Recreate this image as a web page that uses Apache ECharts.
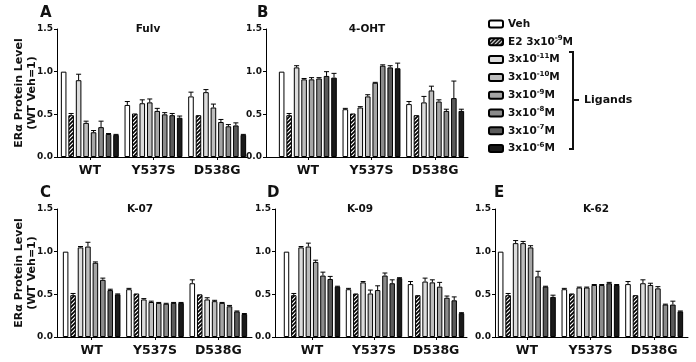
<!DOCTYPE html>
<html>
<head>
<meta charset="utf-8">
<script src="https://cdn.jsdelivr.net/npm/echarts@6/dist/echarts.min.js"></script>
<style>
  html, body { margin: 0; padding: 0; background: #fff; }
  #main { width: 696px; height: 362px; }
</style>
</head>
<body>
<div id="main"></div>
<script>
// ---- data (rows: WT, Y537S, D538G; columns: Veh, E2, 3e-11 ... 3e-6) ----
const groups = ['WT', 'Y537S', 'D538G'];
const treatments = ['Veh', 'E2', 'L11', 'L10', 'L9', 'L8', 'L7', 'L6'];
const legendLabels = ['Veh', 'E2 3x10{s|-9}M', '3x10{s|-11}M', '3x10{s|-10}M',
  '3x10{s|-9}M', '3x10{s|-8}M', '3x10{s|-7}M', '3x10{s|-6}M'];
const yTicks = [0, 0.5, 1.0, 1.5];

const fulvMean = [
  [1.00, 0.49, 0.90, 0.40, 0.29, 0.35, 0.27, 0.26],
  [0.61, 0.51, 0.63, 0.64, 0.54, 0.50, 0.49, 0.46],
  [0.71, 0.49, 0.76, 0.58, 0.41, 0.36, 0.37, 0.26]
];
const fulvErr = [
  [0, 0.02, 0.07, 0.02, 0.02, 0.07, 0.005, 0.005],
  [0.04, 0, 0.04, 0.04, 0.03, 0.02, 0.02, 0.02],
  [0.05, 0, 0.03, 0.04, 0.03, 0.02, 0.03, 0.005]
];
const ohtMean = [
  [1.00, 0.49, 1.05, 0.91, 0.91, 0.92, 0.95, 0.93],
  [0.56, 0.51, 0.58, 0.71, 0.87, 1.07, 1.05, 1.04],
  [0.62, 0.49, 0.64, 0.78, 0.65, 0.54, 0.69, 0.54]
];
const ohtErr = [
  [0, 0.02, 0.02, 0.01, 0.02, 0.01, 0.05, 0.05],
  [0.01, 0, 0.01, 0.02, 0.005, 0.01, 0.02, 0.06],
  [0.03, 0, 0.07, 0.05, 0.02, 0.02, 0.2, 0.02]
];
const k07Mean = [
  [1.00, 0.49, 1.05, 1.06, 0.87, 0.67, 0.55, 0.50],
  [0.56, 0.51, 0.44, 0.41, 0.40, 0.39, 0.40, 0.40],
  [0.63, 0.50, 0.44, 0.42, 0.40, 0.36, 0.30, 0.27]
];
const k07Err = [
  [0, 0.02, 0.01, 0.05, 0.01, 0.02, 0.01, 0.005],
  [0.01, 0, 0.01, 0.01, 0.005, 0.005, 0.005, 0.005],
  [0.04, 0, 0.02, 0.01, 0.005, 0.01, 0.005, 0.005]
];
const k09Mean = [
  [1.00, 0.49, 1.05, 1.06, 0.88, 0.72, 0.68, 0.59],
  [0.56, 0.51, 0.64, 0.51, 0.55, 0.72, 0.63, 0.69],
  [0.62, 0.49, 0.65, 0.64, 0.59, 0.46, 0.43, 0.28]
];
const k09Err = [
  [0, 0.02, 0.01, 0.04, 0.02, 0.04, 0.03, 0.005],
  [0.01, 0, 0.01, 0.04, 0.05, 0.03, 0.04, 0.005],
  [0.03, 0, 0.04, 0.03, 0.05, 0.02, 0.04, 0.005]
];
const k62Mean = [
  [1.00, 0.49, 1.10, 1.10, 1.05, 0.71, 0.59, 0.47],
  [0.56, 0.51, 0.58, 0.58, 0.61, 0.61, 0.63, 0.61],
  [0.62, 0.49, 0.63, 0.61, 0.57, 0.38, 0.38, 0.30]
];
const k62Err = [
  [0, 0.02, 0.03, 0.02, 0.02, 0.06, 0.005, 0.02],
  [0.01, 0, 0.005, 0.005, 0.005, 0.005, 0.01, 0.005],
  [0.03, 0, 0.04, 0.02, 0.02, 0.005, 0.04, 0.005]
];

// ---- layout / style ----
const FONT = '"DejaVu Sans", sans-serif';
const INK = '#111';
const BAR_GAP = 0.34;     // barGap as fraction
const CAT_GAP = 0.09;     // barCategoryGap as fraction
const fills = ['#ffffff', null, '#dcdcdc', '#bdbdbd', '#a5a5a5', '#8b8b8b', '#5a5a5a', '#1a1a1a'];

// hatch for E2: black with white "/" stripes
function hatch() {
  const c = document.createElement('canvas');
  c.width = 4; c.height = 4;
  const ctx = c.getContext('2d');
  ctx.fillStyle = '#000';
  ctx.fillRect(0, 0, 4, 4);
  ctx.strokeStyle = '#fff';
  ctx.lineWidth = 1.2;
  ctx.beginPath();
  ctx.moveTo(-1, 5); ctx.lineTo(5, -1);
  ctx.moveTo(-1, 1); ctx.lineTo(1, -1);
  ctx.moveTo(3, 5); ctx.lineTo(5, 3);
  ctx.stroke();
  return c;
}
fills[1] = { image: hatch(), repeat: 'repeat' };

// panels: frame = axis box, data = where the bars sit
const panels = [
  { letter: 'A', title: 'Fulv',  mean: fulvMean, err: fulvErr, top: 29,  frame: [57, 191],  data: [58, 191],  yName: true,  lx: 40,  tx: 148 },
  { letter: 'B', title: '4-OHT', mean: ohtMean,  err: ohtErr,  top: 29,  frame: [266, 202], data: [276, 191], yName: false, lx: 257, tx: 367 },
  { letter: 'C', title: 'K-07',  mean: k07Mean,  err: k07Err,  top: 209, frame: [57, 195],  data: [60, 190],  yName: true,  lx: 40,  tx: 140 },
  { letter: 'D', title: 'K-09',  mean: k09Mean,  err: k09Err,  top: 209, frame: [275, 192], data: [281, 186], yName: false, lx: 267, tx: 360 },
  { letter: 'E', title: 'K-62',  mean: k62Mean,  err: k62Err,  top: 209, frame: [495, 193], data: [495, 191], yName: false, lx: 494, tx: 596 }
];
const PLOT_H = 128;

const grid = [], xAxis = [], yAxis = [], series = [], title = [];

function errRender(params, api) {
  const cat = api.value(0), s = api.value(1), top = api.value(2), e = api.value(3);
  const band = api.size([1, 0])[0];
  const n = treatments.length;
  const w = (band - band * CAT_GAP) / (n + (n - 1) * BAR_GAP);
  const sum = n * w + (n - 1) * w * BAR_GAP;
  const cx = api.coord([cat, 0])[0] - sum / 2 + s * w * (1 + BAR_GAP) + w / 2;
  const y0 = api.coord([cat, top])[1];
  const y1 = api.coord([cat, top + e])[1];
  const hw = w * 0.45;
  return {
    type: 'group',
    children: [
      { type: 'line', shape: { x1: cx, y1: y0, x2: cx, y2: y1 }, style: { stroke: '#000', lineWidth: 1 } },
      { type: 'line', shape: { x1: cx - hw, y1: y1, x2: cx + hw, y2: y1 }, style: { stroke: '#000', lineWidth: 1 } }
    ]
  };
}

panels.forEach((p, pi) => {
  const fg = pi * 2, dg = pi * 2 + 1;
  grid.push({ left: p.frame[0], width: p.frame[1], top: p.top, height: PLOT_H, outerBoundsMode: 'none' });
  grid.push({ left: p.data[0], width: p.data[1], top: p.top, height: PLOT_H, outerBoundsMode: 'none' });

  // frame axes
  xAxis.push({
    type: 'value', gridIndex: fg, min: 0, max: 1,
    axisLine: { show: true, lineStyle: { color: '#000', width: 1 } },
    axisTick: { show: false }, axisLabel: { show: false }, splitLine: { show: false }
  });
  yAxis.push({
    type: 'value', gridIndex: fg, min: yTicks[0], max: yTicks[yTicks.length - 1], interval: 0.5,
    axisLine: { show: true, lineStyle: { color: '#000', width: 1 } },
    axisTick: { show: true, length: 3, lineStyle: { color: '#000' } },
    axisLabel: { show: true, margin: 4, fontSize: 9, fontWeight: 'bold', fontFamily: FONT, color: INK,
      formatter: v => v.toFixed(1) },
    splitLine: { show: false },
    name: p.yName ? 'ERα Protein Level\n(WT Veh=1)' : '',
    nameLocation: 'middle', nameGap: 18, nameMoveOverlap: false,
    nameTextStyle: { fontSize: 11, fontWeight: 'bold', fontFamily: FONT, color: INK, lineHeight: 13 }
  });

  // data axes
  xAxis.push({
    type: 'category', gridIndex: dg, data: groups,
    axisLine: { show: false },
    axisTick: { show: true, alignWithLabel: true, length: 3, lineStyle: { color: '#000' } },
    axisLabel: { interval: 0, margin: 7, fontSize: 12.5, fontWeight: 'bold', fontFamily: FONT, color: INK },
    splitLine: { show: false }
  });
  yAxis.push({ type: 'value', gridIndex: dg, min: 0, max: 1.5, show: false });

  treatments.forEach((t, si) => {
    series.push({
      type: 'bar', name: t, xAxisIndex: dg, yAxisIndex: dg,
      barGap: (BAR_GAP * 100) + '%', barCategoryGap: (CAT_GAP * 100) + '%',
      itemStyle: { color: fills[si], borderColor: '#000', borderWidth: 1 },
      emphasis: { disabled: true },
      data: groups.map((g, gi) => p.mean[gi][si])
    });
  });

  const errData = [];
  groups.forEach((g, gi) => treatments.forEach((t, si) => {
    if (p.err[gi][si] > 0) errData.push([gi, si, p.mean[gi][si], p.err[gi][si]]);
  }));
  series.push({
    type: 'custom', xAxisIndex: dg, yAxisIndex: dg, z: 5,
    renderItem: errRender, encode: { x: 0, y: 2 }, data: errData, silent: true
  });

  title.push({
    text: p.letter, left: p.lx, top: p.top - 23, padding: 0,
    textStyle: { fontSize: 15, fontWeight: 'bold', fontFamily: FONT, color: INK }
  });
  title.push({
    text: p.title, left: p.tx, top: p.top - 5, textAlign: 'center', padding: 0,
    textStyle: { fontSize: 10.5, fontWeight: 'bold', fontFamily: FONT, color: INK }
  });
});

const chart = echarts.init(document.getElementById('main'), null, { renderer: 'canvas' });
chart.setOption({
  animation: false,
  backgroundColor: '#fff',
  title: title,
  grid: grid,
  xAxis: xAxis,
  yAxis: yAxis,
  legend: {
    data: treatments,
    orient: 'vertical', left: 488, top: 17, padding: 0,
    itemWidth: 14, itemHeight: 7, itemGap: 3.8,
    selectedMode: false,
    formatter: name => legendLabels[treatments.indexOf(name)],
    textStyle: {
      fontSize: 10.5, fontWeight: 'bold', fontFamily: FONT, color: INK, lineHeight: 14,
      rich: { s: { fontSize: 7, fontWeight: 'bold', fontFamily: FONT, color: INK, verticalAlign: 'top', lineHeight: 14 } }
    }
  },
  graphic: [
    { type: 'polyline', shape: { points: [[569, 52], [573, 52], [573, 149], [569, 149]] },
      style: { stroke: INK, lineWidth: 2, fill: null } },
    { type: 'line', shape: { x1: 573, y1: 100, x2: 579, y2: 100 }, style: { stroke: INK, lineWidth: 2 } },
    { type: 'text', x: 584, y: 100,
      style: { text: 'Ligands', fontSize: 11, fontWeight: 'bold', fontFamily: FONT, fill: INK, verticalAlign: 'middle' } }
  ],
  series: series
});
</script>
</body>
</html>
